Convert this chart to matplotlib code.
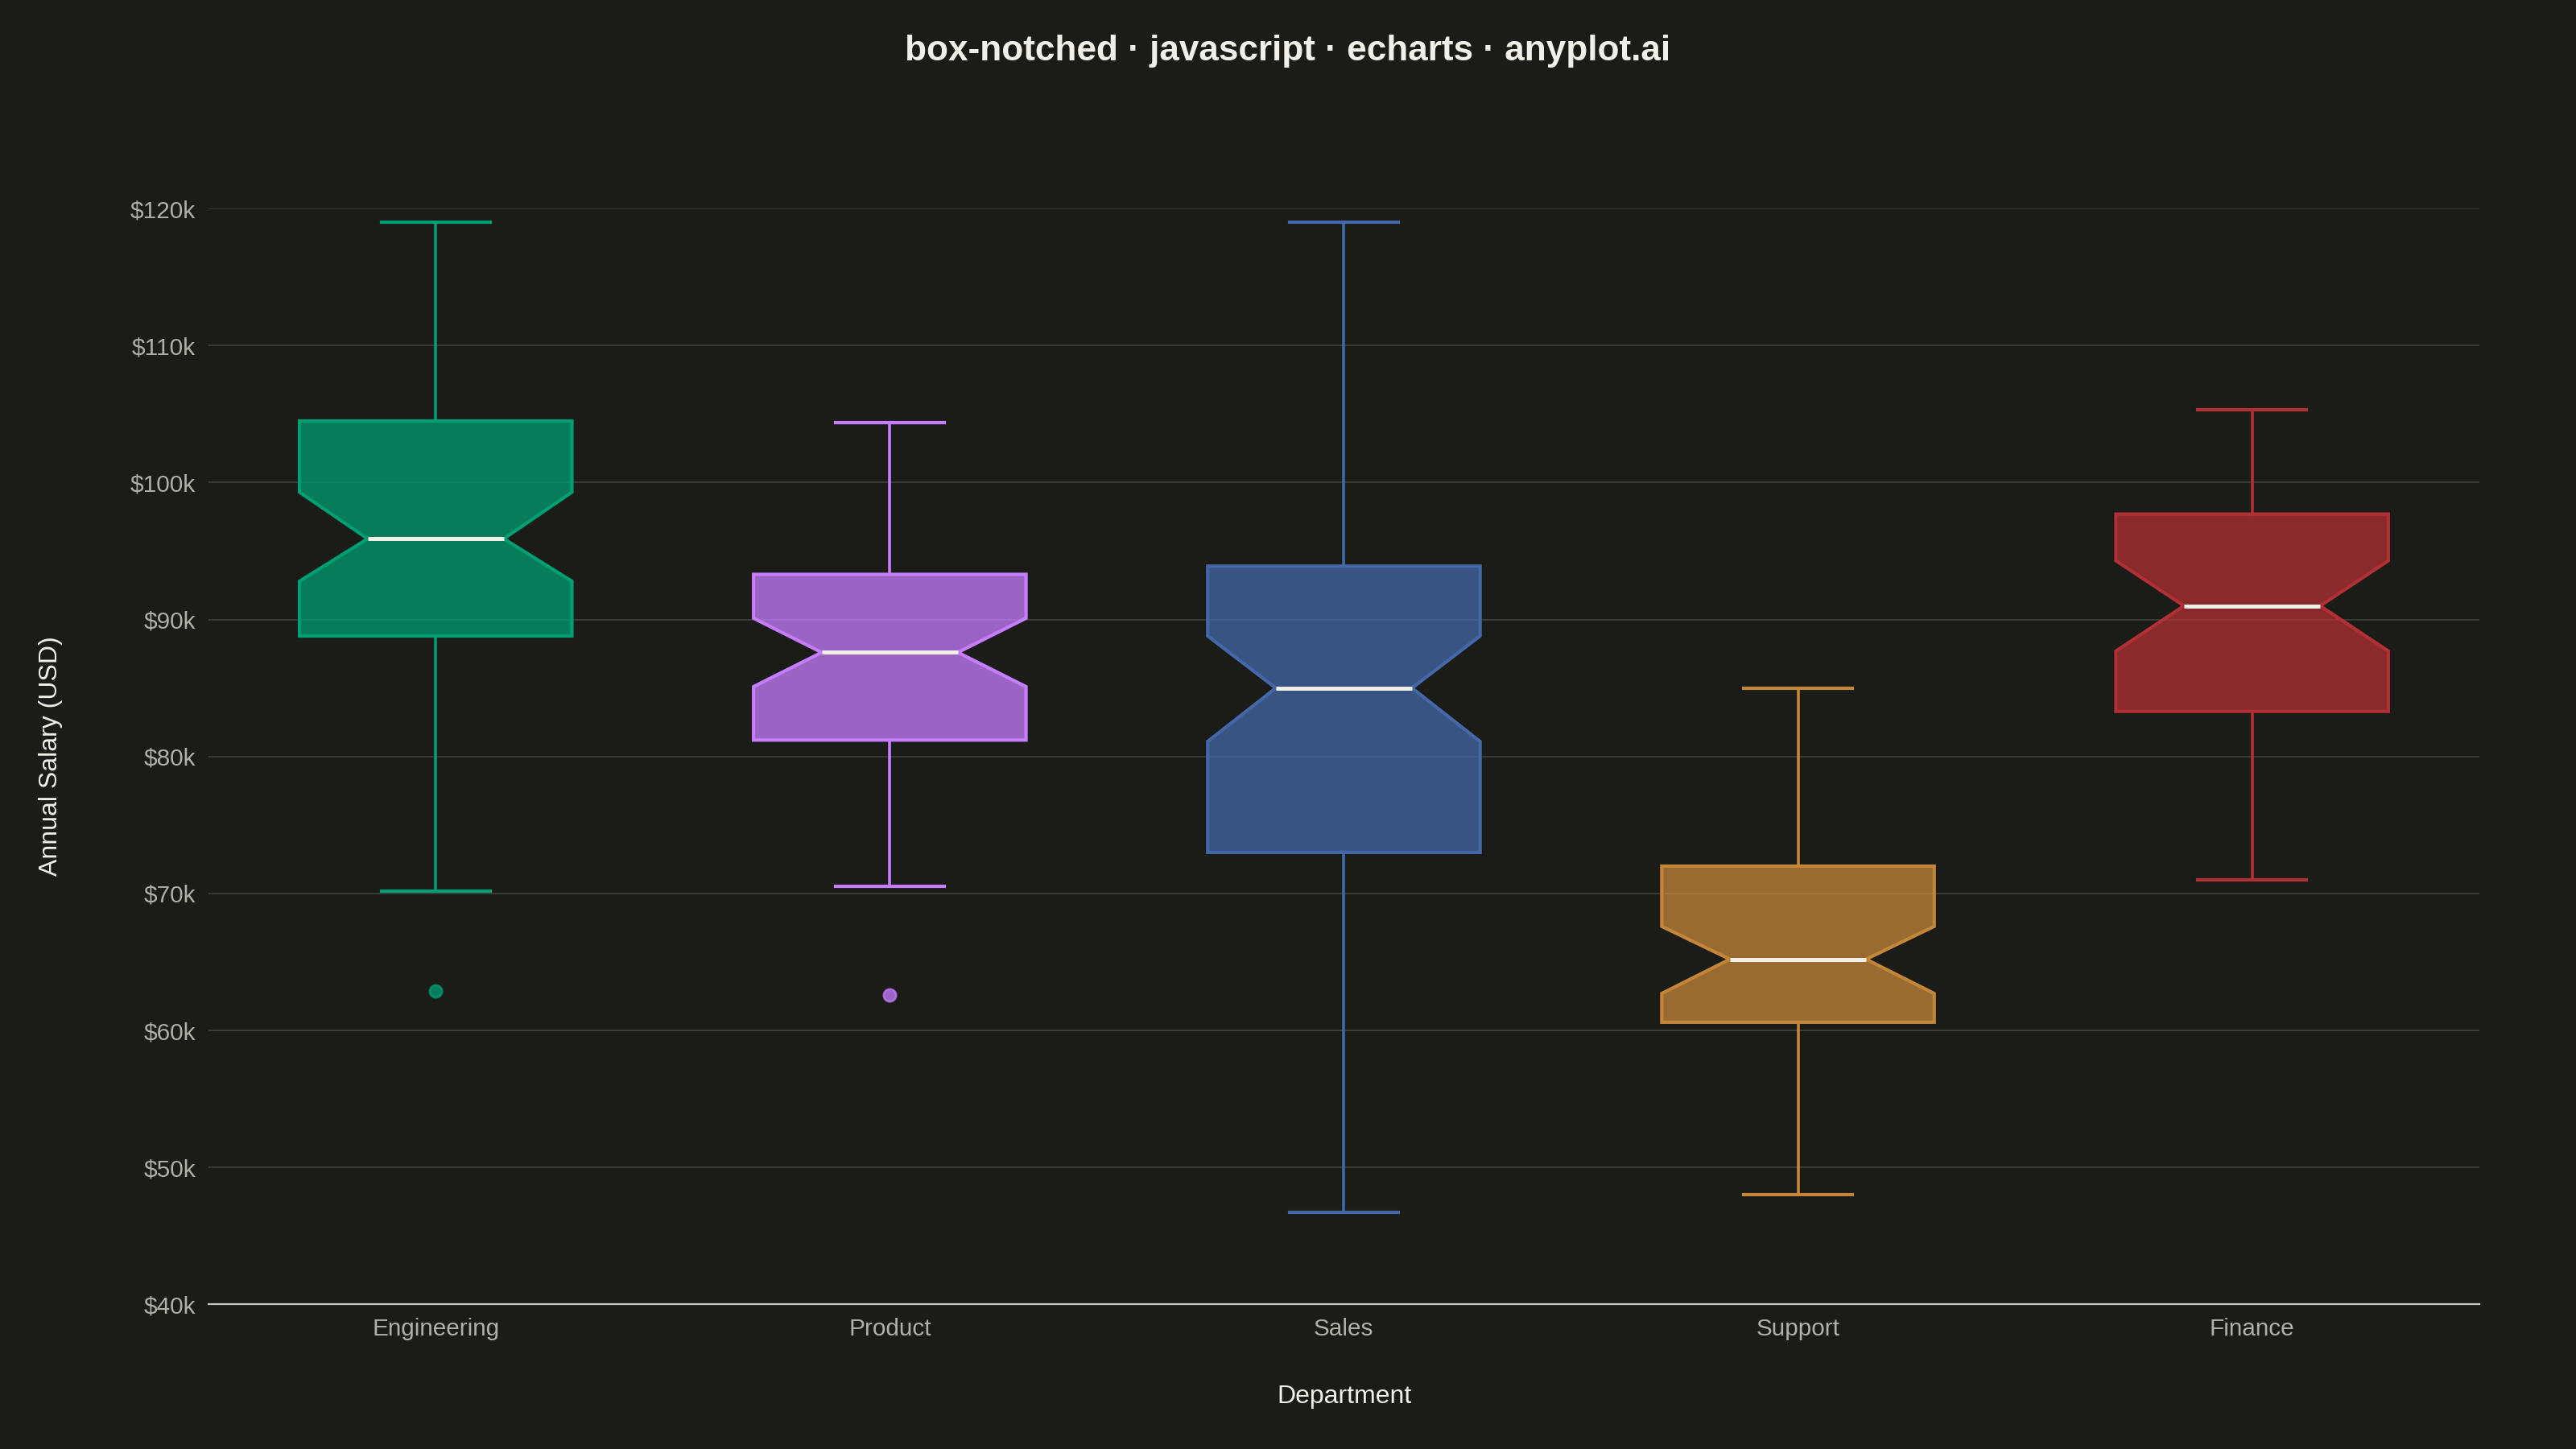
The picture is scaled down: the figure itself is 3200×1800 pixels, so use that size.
import matplotlib.pyplot as plt
from matplotlib.ticker import FuncFormatter

# Data (in $k)
departments = ["Engineering", "Product", "Sales", "Support", "Finance"]
whisker_low = [70.2, 70.5, 46.7, 48.0, 71.0]
q1 = [88.8, 81.2, 73.0, 60.6, 83.3]
median = [95.9, 87.6, 85.0, 65.2, 91.0]
q3 = [104.5, 93.3, 93.9, 72.0, 97.7]
whisker_high = [119.0, 104.4, 119.0, 85.0, 105.3]
notch_low = [92.8, 85.1, 81.1, 62.7, 87.7]
notch_high = [99.3, 90.1, 88.8, 67.6, 94.3]
outliers = [[62.9], [62.6], [], [], []]
colors = ["#009E73", "#C77DFF", "#4467A8", "#C4873A", "#B03035"]

BG = "#1b1b18"

plt.rcParams['font.family'] = ['Liberation Sans', 'DejaVu Sans']
fig = plt.figure(figsize=(16, 9), dpi=200, facecolor=BG)
ax = fig.add_axes([0.081, 0.0998, 0.8814, 0.7562])
ax.set_facecolor(BG)

# build stats for bxp
stats = []
for i in range(len(departments)):
    stats.append({
        "whislo": whisker_low[i] * 1000,
        "q1": q1[i] * 1000,
        "med": median[i] * 1000,
        "q3": q3[i] * 1000,
        "whishi": whisker_high[i] * 1000,
        "cilo": notch_low[i] * 1000,
        "cihi": notch_high[i] * 1000,
        "fliers": [v * 1000 for v in outliers[i]],
        "label": departments[i],
    })

for i, s in enumerate(stats):
    c = colors[i]
    ax.bxp([s], positions=[i], widths=0.6, capwidths=0.24, shownotches=True,
           patch_artist=True,
           boxprops=dict(facecolor=c, edgecolor=c, linewidth=1.5),
           whiskerprops=dict(color=c, linewidth=1.3),
           capprops=dict(color=c, linewidth=1.5),
           medianprops=dict(color="#f0efe8", linewidth=1.8),
           flierprops=dict(marker="o", markerfacecolor=c, markeredgecolor=c,
                           markersize=5.5, linestyle="none", alpha=0.75),
           zorder=3)

# fill transparency, keep edge opaque
for p in ax.patches:
    fc = p.get_facecolor()
    p.set_facecolor((fc[0], fc[1], fc[2], 0.75))

ax.set_xlim(-0.5, len(departments) - 0.5)
ax.set_ylim(40000, 120000)
ax.set_yticks(range(40000, 120001, 10000))
ax.yaxis.set_major_formatter(FuncFormatter(lambda v, p: f"${int(v / 1000)}k"))
ax.set_xticks(range(len(departments)))
ax.set_xticklabels(departments)

ax.grid(axis="y", color="#3a3a36", linewidth=0.7, zorder=0)
ax.set_axisbelow(True)
for side in ["top", "right", "left"]:
    ax.spines[side].set_visible(False)
ax.spines["bottom"].set_color("#c8c8c0")
ax.spines["bottom"].set_linewidth(0.8)
ax.tick_params(axis="both", length=0, colors="#b0b0a8", labelsize=10.7)
ax.tick_params(axis="y", pad=5.8)
ax.tick_params(axis="x", pad=6)

fig.text(0.5, 0.965, "box-notched · javascript · echarts · anyplot.ai",
         ha="center", va="center", color="#f0efe8", fontsize=15.9, fontweight="bold")
fig.text(0.5218, 0.036, "Department", ha="center", va="center",
         color="#f0efe8", fontsize=11.5)
fig.text(0.0198, 0.478, "Annual Salary (USD)", ha="center", va="center",
         rotation=90, color="#f0efe8", fontsize=11.5)

fig.savefig("out.png", dpi=200, facecolor=BG)
